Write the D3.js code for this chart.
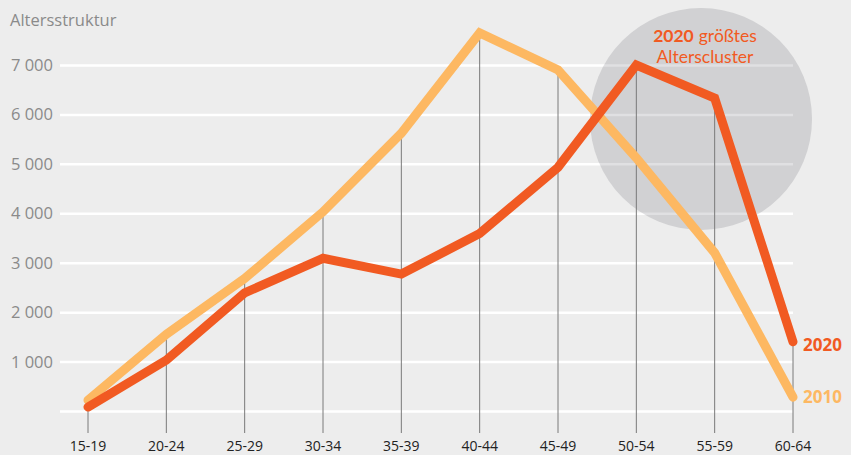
<!DOCTYPE html>
<html><head><meta charset="utf-8">
<script src="https://cdn.jsdelivr.net/npm/d3@7/dist/d3.min.js"></script>
<style>
html,body{margin:0;padding:0;background:#ededed;}
svg{display:block;font-family:"Open Sans",sans-serif;}
</style></head><body>
<script>
const categories = ["15-19","20-24","25-29","30-34","35-39","40-44","45-49","50-54","55-59","60-64"];
const values2010 = [220, 1550, 2680, 4030, 5620, 7650, 6900, 5120, 3200, 280];
const values2020 = [80, 1030, 2390, 3090, 2770, 3590, 4930, 7000, 6330, 1400];
const yTicks = [1000, 2000, 3000, 4000, 5000, 6000, 7000];
const title = "Altersstruktur";
const seriesNames = ["2010", "2020"];

const W = 851, H = 455;
const svg = d3.select("body").append("svg").attr("width", W).attr("height", H);
svg.append("rect").attr("width", W).attr("height", H).attr("fill", "#ededed");

const x = d3.scalePoint().domain(categories).range([88, 793]);
const y = d3.scaleLinear().domain([0, 7000]).range([411, 65]);
const fmt = v => d3.format(",")(v).replace(/,/g, " ");

// gridlines
const grid = svg.append("g").attr("transform", "translate(60,0)")
  .call(d3.axisLeft(y).tickValues([0, ...yTicks]).tickSize(-(793 - 60)).tickFormat(""));
grid.select(".domain").remove();
grid.selectAll("line").attr("stroke", "#ffffff").attr("stroke-width", 2.5);

// y labels
svg.append("g").selectAll("text").data(yTicks).join("text")
  .attr("x", 53).attr("y", d => y(d)).attr("dy", "0.36em")
  .attr("text-anchor", "end").attr("fill", "#8a8a8a").attr("font-size", 16.5)
  .text(fmt);

// circle highlight
svg.append("circle").attr("cx", 701).attr("cy", 119).attr("r", 111)
  .attr("fill", "#454a55").attr("fill-opacity", 0.17);

// vertical drop lines
svg.append("g").selectAll("line").data(categories).join("line")
  .attr("x1", d => x(d)).attr("x2", d => x(d))
  .attr("y1", (d, i) => y(Math.max(values2010[i], values2020[i])))
  .attr("y2", 433)
  .attr("stroke", "#7a7a7a").attr("stroke-width", 1);

// x labels
svg.append("g").selectAll("text").data(categories).join("text")
  .attr("x", d => x(d)).attr("y", 451)
  .attr("text-anchor", "middle").attr("fill", "#222").attr("font-size", 14)
  .text(d => d);

// lines
const line = d3.line().x((d, i) => x(categories[i])).y(d => y(d));
svg.append("path").datum(values2010).attr("d", line)
  .attr("fill", "none").attr("stroke", "#fdb862").attr("stroke-width", 9)
  .attr("stroke-linecap", "round").attr("stroke-linejoin", "miter");
svg.append("path").datum(values2020).attr("d", line)
  .attr("fill", "none").attr("stroke", "#f15a22").attr("stroke-width", 9)
  .attr("stroke-linecap", "round").attr("stroke-linejoin", "miter");

// end labels
const last = categories.length - 1;
svg.append("text").attr("x", 803).attr("y", y(values2020[last]) + 3).attr("dy", "0.36em")
  .attr("font-weight", "bold").attr("font-size", 17).attr("fill", "#f15a22").text(seriesNames[1]);
svg.append("text").attr("x", 803).attr("y", y(values2010[last])).attr("dy", "0.36em")
  .attr("font-weight", "bold").attr("font-size", 17).attr("fill", "#fdb862").text(seriesNames[0]);

// title
svg.append("text").attr("x", 10).attr("y", 26).attr("fill", "#8a8a8a").attr("font-size", 16.5).text(title);

// annotation (two separate text parts on line 1)
const cx = 705;
const annFont = "Lato, 'Open Sans', sans-serif";
const a1 = svg.append("text").attr("y", 42).attr("fill", "#f15a22").attr("font-size", 17.5)
  .attr("font-family", annFont).attr("font-weight", "bold").text("2020");
const a2 = svg.append("text").attr("y", 42).attr("fill", "#f15a22").attr("font-size", 17.5)
  .attr("font-family", annFont).text("größtes");
const gap = 5;
const w1 = a1.node().getComputedTextLength(), w2 = a2.node().getComputedTextLength();
const start = cx - (w1 + gap + w2) / 2;
a1.attr("x", start);
a2.attr("x", start + w1 + gap);
svg.append("text").attr("x", cx).attr("y", 63).attr("text-anchor", "middle")
  .attr("font-family", annFont).attr("fill", "#f15a22").attr("font-size", 17.5).text("Alterscluster");
</script>
</body></html>
